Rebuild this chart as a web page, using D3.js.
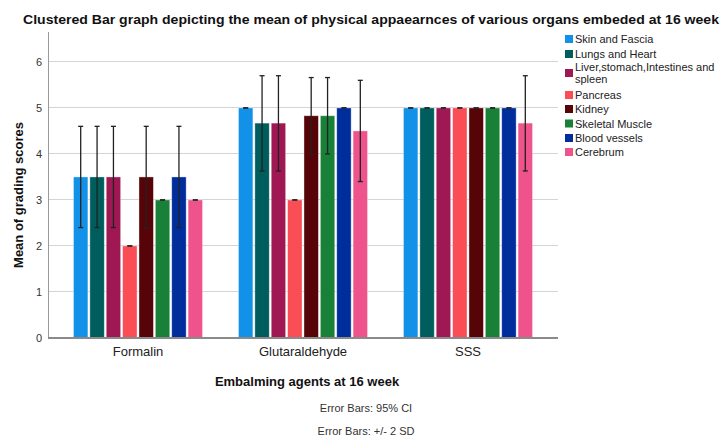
<!DOCTYPE html>
<html>
<head>
<meta charset="utf-8">
<script src="https://cdn.jsdelivr.net/npm/d3@7"></script>
<style>
  html, body { margin: 0; padding: 0; background: #fff; }
  svg { display: block; font-family: "Liberation Sans", Arial, sans-serif; }
</style>
</head>
<body>
<svg id="chart" width="723" height="439"></svg>
<script>
const agents = ["Formalin", "Glutaraldehyde", "SSS"];
const organs = ["Skin and Fascia", "Lungs and Heart", "Liver,stomach,Intestines and spleen", "Pancreas", "Kidney", "Skeletal Muscle", "Blood vessels", "Cerebrum"];
const organColors = ["#1192e8", "#005d5d", "#9f1853", "#fa4d56", "#570408", "#198038", "#002d9c", "#ee538b"];
// mean values per agent (order of organs)
const formalinMeans = [3.5, 3.5, 3.5, 2.0, 3.5, 3.0, 3.5, 3.0];
const glutMeans     = [5.0, 4.67, 4.67, 3.0, 4.83, 4.83, 5.0, 4.5];
const sssMeans      = [5.0, 5.0, 5.0, 5.0, 5.0, 5.0, 5.0, 4.67];
// error bar bounds
const formalinLow  = [2.4, 2.4, 2.4, 2.0, 2.4, 3.0, 2.4, 3.0];
const formalinHigh = [4.6, 4.6, 4.6, 2.0, 4.6, 3.0, 4.6, 3.0];
const glutLow      = [5.0, 3.63, 3.63, 3.0, 4.0, 4.0, 5.0, 3.4];
const glutHigh     = [5.0, 5.7, 5.7, 3.0, 5.66, 5.66, 5.0, 5.6];
const sssLow       = [5.0, 5.0, 5.0, 5.0, 5.0, 5.0, 5.0, 3.63];
const sssHigh      = [5.0, 5.0, 5.0, 5.0, 5.0, 5.0, 5.0, 5.7];
const yTicks = [0, 1, 2, 3, 4, 5, 6];

const meansByAgent = [formalinMeans, glutMeans, sssMeans];
const lowByAgent = [formalinLow, glutLow, sssLow];
const highByAgent = [formalinHigh, glutHigh, sssHigh];

const svg = d3.select("#chart");
const pLeft = 48, pRight = 558, pTop = 32, pBottom = 338;

const x0 = d3.scaleBand().domain(agents).range([pLeft, pRight]).paddingInner(0.218).paddingOuter(0.1545);
const x1 = d3.scaleBand().domain(organs).range([0, x0.bandwidth()]).paddingInner(0.12);
const y = d3.scaleLinear().domain([0, 6.65]).range([pBottom, pTop]);
const color = d3.scaleOrdinal().domain(organs).range(organColors);

// gridlines
svg.append("g").selectAll("line").data(yTicks.filter(d => d > 0)).join("line")
  .attr("x1", pLeft).attr("x2", pRight)
  .attr("y1", d => y(d)).attr("y2", d => y(d))
  .attr("stroke", "#d4d4d4").attr("stroke-width", 1).attr("shape-rendering", "crispEdges");

// y axis
const yAxis = d3.axisLeft(y).tickValues(yTicks).tickSize(0).tickPadding(6).tickFormat(d3.format("d"));
const gy = svg.append("g").attr("transform", `translate(${pLeft},0)`).call(yAxis);
gy.select(".domain").remove();
gy.selectAll("text").attr("font-size", 11).attr("fill", "#333").attr("font-family", "Liberation Sans, Arial, sans-serif");

// bars
const groups = svg.append("g").selectAll("g").data(agents).join("g")
  .attr("transform", d => `translate(${x0(d)},0)`);

groups.selectAll("rect").data((a, i) => organs.map((o, j) => ({ organ: o, value: meansByAgent[i][j] })))
  .join("rect")
  .attr("x", d => x1(d.organ))
  .attr("width", x1.bandwidth())
  .attr("y", d => y(d.value))
  .attr("height", d => y(0) - y(d.value))
  .attr("fill", d => color(d.organ))
  .attr("stroke", "rgba(255,255,255,0.45)")
  .attr("stroke-width", 0.8);

// error bars
const eb = groups.selectAll("g.err").data((a, i) => organs.map((o, j) => ({ organ: o, lo: lowByAgent[i][j], hi: highByAgent[i][j] })))
  .join("g").attr("class", "err")
  .attr("transform", d => `translate(${x1(d.organ) + x1.bandwidth() / 2},0)`);
eb.append("line").attr("x1", 0).attr("x2", 0).attr("y1", d => y(d.lo)).attr("y2", d => y(d.hi))
  .attr("stroke", "#222").attr("stroke-width", 1.3);
eb.append("line").attr("x1", -2.5).attr("x2", 2.5).attr("y1", d => y(d.hi)).attr("y2", d => y(d.hi))
  .attr("stroke", "#222").attr("stroke-width", 1.3);
eb.append("line").attr("x1", -2.5).attr("x2", 2.5).attr("y1", d => y(d.lo)).attr("y2", d => y(d.lo))
  .attr("stroke", "#222").attr("stroke-width", 1.3);

// axis lines
svg.append("line").attr("x1", pLeft).attr("x2", pLeft).attr("y1", pTop).attr("y2", pBottom)
  .attr("stroke", "#9a9a9a").attr("stroke-width", 1).attr("shape-rendering", "crispEdges");
svg.append("line").attr("x1", pLeft).attr("x2", pRight).attr("y1", pBottom).attr("y2", pBottom)
  .attr("stroke", "#8a8a8a").attr("stroke-width", 1.2).attr("shape-rendering", "crispEdges");

// x axis labels
const xAxis = d3.axisBottom(x0).tickSize(0).tickPadding(9);
const gx = svg.append("g").attr("transform", `translate(0,${pBottom})`).call(xAxis);
gx.select(".domain").remove();
gx.selectAll("text").attr("font-size", 13).attr("fill", "#222").attr("font-family", "Liberation Sans, Arial, sans-serif");

// titles
svg.append("text").attr("x", 23).attr("y", 24)
  .attr("font-size", 13.5).attr("font-weight", "bold").attr("fill", "#111")
  .attr("textLength", 696).attr("lengthAdjust", "spacingAndGlyphs")
  .text("Clustered Bar graph depicting the mean of physical appaearnces of various organs embeded at 16 week");

svg.append("text").attr("transform", "translate(23,195) rotate(-90)")
  .attr("text-anchor", "middle").attr("font-size", 13).attr("font-weight", "bold").attr("fill", "#111")
  .text("Mean of grading scores");

svg.append("text").attr("x", 307).attr("y", 386)
  .attr("text-anchor", "middle").attr("font-size", 13).attr("font-weight", "bold").attr("fill", "#111")
  .text("Embalming agents at 16 week");

svg.append("text").attr("x", 366).attr("y", 412)
  .attr("text-anchor", "middle").attr("font-size", 11).attr("fill", "#333")
  .text("Error Bars: 95% CI");
svg.append("text").attr("x", 366).attr("y", 435)
  .attr("text-anchor", "middle").attr("font-size", 11).attr("fill", "#333")
  .text("Error Bars: +/- 2 SD");

// legend
const legendRows = [
  ["Skin and Fascia"], ["Lungs and Heart"], ["Liver,stomach,Intestines and", "spleen"], ["Pancreas"],
  ["Kidney"], ["Skeletal Muscle"], ["Blood vessels"], ["Cerebrum"]
];
const legendY = [39, 54, 73, 95, 109, 123.5, 138, 152];
const lg = svg.append("g").selectAll("g").data(organs).join("g")
  .attr("transform", (d, i) => `translate(565,${legendY[i]})`);
lg.append("rect").attr("x", 0).attr("y", -4).attr("width", 8).attr("height", 8).attr("fill", d => color(d));
lg.append("text").attr("x", 10).attr("font-size", 11).attr("fill", "#222")
  .each(function(d, i) {
    const lines = legendRows[i];
    const t = d3.select(this);
    lines.forEach((ln, k) => {
      t.append("tspan").attr("x", 10)
        .attr("y", (k - (lines.length - 1) / 2) * 11.5 + 4)
        .text(ln);
    });
  });
</script>
</body>
</html>
